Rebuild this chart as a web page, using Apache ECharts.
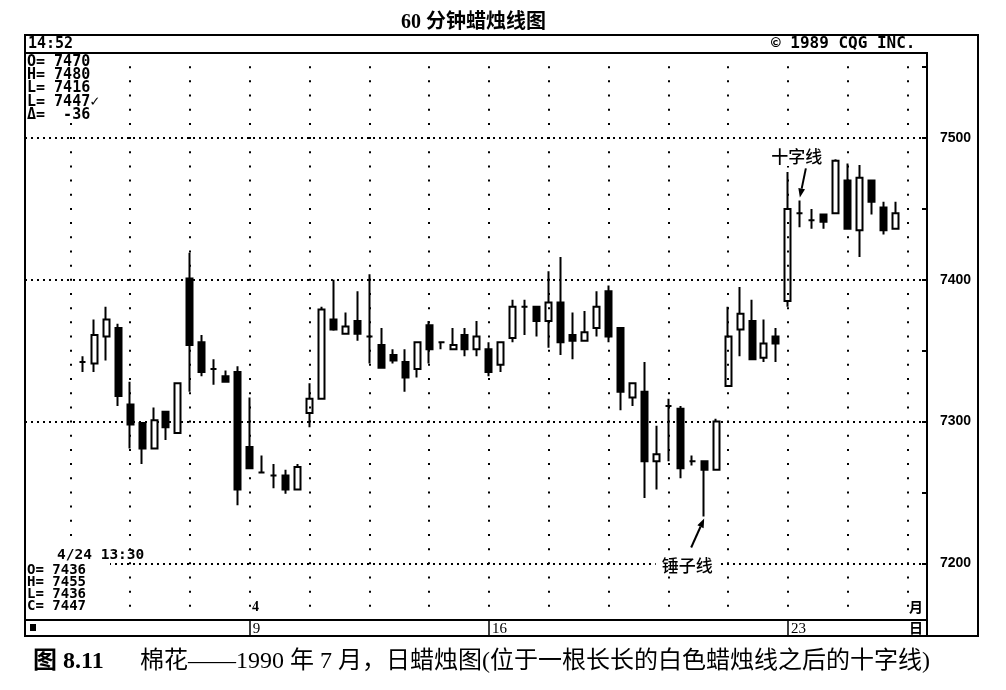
<!DOCTYPE html>
<html>
<head>
<meta charset="utf-8">
<script src="https://cdn.jsdelivr.net/npm/echarts@6/dist/echarts.min.js"></script>
<style>
  html, body { margin: 0; padding: 0; background: #fff; }
  #chart { width: 1006px; height: 690px; }
</style>
</head>
<body>
<div id="chart"></div>
<script>
// Cotton, hourly bars, July 1990 (prices in points)
const opens  = [7342,7341,7360,7366,7312,7299,7281,7307,7292,7401,7356,7337,7332,7335,7282,
                7264,7262,7262,7252,7306,7316,7372,7362,7371,7360,7354,7347,7342,7337,7368,7356,7351,7361,7351,7351,
                7340,7359,7381,7381,7371,7384,7361,7357,7366,7392,7366,7317,7321,7272,7311,7309,7272,7272,7266,7325,
                7365,7371,7345,7360,7385,7447,7442,7446,7447,7470,7435,7470,7451,7436];
const closes = [7342,7361,7372,7318,7298,7281,7301,7296,7327,7354,7335,7337,7328,7252,7267,
                7264,7262,7252,7268,7316,7379,7365,7367,7362,7360,7338,7343,7331,7356,7351,7356,7354,7351,7360,7335,
                7356,7381,7381,7371,7384,7356,7357,7363,7381,7360,7321,7327,7272,7277,7311,7267,7272,7266,7300,7360,
                7376,7344,7355,7355,7450,7447,7442,7441,7484,7436,7472,7455,7435,7447];
const lows   = [7335,7335,7343,7311,7281,7270,7281,7287,7292,7321,7332,7326,7328,7241,7267,
                7264,7253,7249,7252,7296,7316,7364,7362,7357,7341,7338,7341,7321,7331,7341,7351,7351,7346,7346,7332,
                7335,7356,7361,7360,7352,7347,7344,7357,7360,7356,7308,7311,7246,7252,7272,7260,7269,7233,7266,7325,
                7346,7344,7342,7342,7381,7437,7436,7436,7447,7436,7416,7446,7432,7436];
const highs  = [7346,7372,7381,7369,7328,7299,7310,7307,7327,7419,7361,7344,7336,7339,7317,
                7276,7270,7266,7270,7327,7381,7400,7377,7392,7404,7366,7351,7351,7356,7371,7356,7366,7366,7371,7356,
                7356,7386,7386,7381,7406,7416,7377,7378,7392,7396,7366,7327,7342,7297,7316,7311,7276,7272,7302,7381,
                7395,7386,7372,7366,7476,7456,7450,7446,7485,7482,7481,7470,7455,7455];

// Day boundaries on the time axis (bar index -> day of month)
const dateBars   = [14, 34, 59];
const dateLabels = ['9', '16', '23'];

// Price scale
const priceMin = 7160;
const priceMax = 7560;

// Quote-screen text
const clockText   = '14:52';
const creditText  = '© 1989 CQG INC.';
const topInfo     = ['O= 7470', 'H= 7480', 'L= 7416', 'L= 7447✓', 'Δ=  -36'];
const stampText   = '4/24 13:30';
const bottomInfo  = ['O= 7436', 'H= 7455', 'L= 7436', 'C= 7447'];
const monthDigit  = '4';
const monthChar   = '月';
const dayChar     = '日';
const titleText   = '60 分钟蜡烛线图';
const captionLead = '图 8.11';
const captionText = '棉花——1990 年 7 月，日蜡烛图(位于一根长长的白色蜡烛线之后的十字线)';

// Annotated bars
const notes = [
  { bar: 60, text: '十字线', at: 'high' },
  { bar: 52, text: '锤子线', at: 'low' }
];

// One empty slot before and after the bars so the outer dotted columns fall on slots
const categories = ['', ...opens.map((_, i) => 'b' + i), ''];
const bars = ['-', ...opens.map((o, i) => [o, closes[i], lows[i], highs[i]]), '-'];
const isDateSlot = (slot) => dateBars.indexOf(slot - 1) >= 0;
const dateLabelAt = (slot) => {
  const k = dateBars.indexOf(slot - 1);
  return k >= 0 ? dateLabels[k] : '';
};
const columnSlots = Array.from({ length: 15 }, (_, k) => k * 5);

// Plot frame geometry
const PLOT = { left: 25, top: 53, right: 927, bottom: 620 };
const slotW = (907.5 - 70.3) / 70;
const grid1Left = 70.3 - slotW / 2;
const dotStep = (PLOT.bottom - PLOT.top) / (priceMax - priceMin) * 10;   // one dot per 10 points

const MONO = '"DejaVu Sans Mono", monospace';
const CJK = '"Noto Sans CJK SC", sans-serif';
const SERIF = '"Liberation Serif", "Noto Sans CJK SC", serif';

function monoText(str, x, y, size, extra) {
  return Object.assign({
    type: 'text', z: 30,
    style: { text: str, x: x, y: y, font: 'bold ' + size + 'px ' + MONO, fill: '#000',
             textAlign: 'left', textVerticalAlign: 'middle' }
  }, extra || {});
}

const staticGraphics = [
  // outer box
  { type: 'rect', z: 40, shape: { x: 25, y: 35, width: 953, height: 601 },
    style: { fill: 'none', stroke: '#000', lineWidth: 2 } },
  // right price column continues through the date strip
  { type: 'line', z: 40, shape: { x1: PLOT.right, y1: PLOT.bottom, x2: PLOT.right, y2: 636 },
    style: { stroke: '#000', lineWidth: 2 } },
  monoText(clockText, 28, 44, 15),
  monoText(creditText, 771, 44, 16),
  // quote blocks sit on white so the grid does not show through
  { type: 'rect', z: 25, shape: { x: 26, y: 54, width: 70, height: 68 }, style: { fill: '#fff' } },
  { type: 'rect', z: 25, shape: { x: 26, y: 548, width: 84, height: 71 }, style: { fill: '#fff' } },
  ...topInfo.map((s, i) => monoText(s, 27, 62 + i * 13.3, 15)),
  monoText(stampText, 57, 555, 14.5),
  ...bottomInfo.map((s, i) => monoText(s, 27, 570 + i * 12, 14)),
  { type: 'text', z: 30, style: { text: monthDigit, x: 252, y: 607, font: 'bold 14px ' + SERIF,
      fill: '#000', textAlign: 'left', textVerticalAlign: 'middle' } },
  { type: 'text', z: 30, style: { text: monthChar, x: 916, y: 607, font: 'bold 14px ' + CJK,
      fill: '#000', textAlign: 'center', textVerticalAlign: 'middle' } },
  { type: 'text', z: 30, style: { text: dayChar, x: 916, y: 628, font: 'bold 14px ' + CJK,
      fill: '#000', textAlign: 'center', textVerticalAlign: 'middle' } },
  { type: 'rect', z: 30, shape: { x: 30, y: 624, width: 6, height: 7 }, style: { fill: '#000' } },
  // figure caption
  { type: 'text', z: 30, style: { text: captionLead, x: 33, y: 662, font: 'bold 24px ' + SERIF,
      fill: '#000', textAlign: 'left', textVerticalAlign: 'middle' } },
  { type: 'text', z: 30, style: { text: captionText, x: 140, y: 662, font: '24px ' + SERIF,
      fill: '#000', textAlign: 'left', textVerticalAlign: 'middle' } }
];

const option = {
  animation: false,
  backgroundColor: '#fff',
  title: {
    text: titleText, left: 396, top: 8,
    textStyle: { fontFamily: SERIF, fontSize: 20, fontWeight: 'bold', color: '#000' }
  },
  grid: [
    { left: PLOT.left, top: PLOT.top, width: PLOT.right - PLOT.left, height: PLOT.bottom - PLOT.top,
      show: true, borderColor: '#000', borderWidth: 2, backgroundColor: 'transparent' },
    { left: grid1Left, top: PLOT.top, width: slotW * categories.length, height: PLOT.bottom - PLOT.top }
  ],
  xAxis: [
    { gridIndex: 0, type: 'value', min: 0, max: 1, show: false },
    { gridIndex: 1, type: 'category', data: categories, boundaryGap: true,
      axisLine: { show: false },
      axisTick: { show: true, alignWithLabel: true, interval: isDateSlot, length: 16,
                  lineStyle: { color: '#000', width: 1.5 } },
      axisLabel: { interval: isDateSlot, formatter: (v, i) => dateLabelAt(i), align: 'left',
                   margin: 2, padding: [0, 0, 0, 3], fontFamily: SERIF, fontSize: 15, color: '#000' },
      splitLine: { show: false } }
  ],
  yAxis: [
    { gridIndex: 0, type: 'value', position: 'right', min: priceMin, max: priceMax, splitNumber: 4,
      axisLine: { show: true, onZero: false, lineStyle: { color: '#000', width: 2 } },
      axisTick: { show: true, inside: true, length: 5, lineStyle: { color: '#000', width: 2 } },
      minorTick: { show: true, splitNumber: 2, length: 5, lineStyle: { color: '#000', width: 2 } },
      axisLabel: { showMinLabel: false, showMaxLabel: false, margin: 13,
                   formatter: (v) => String(v),
                   fontFamily: '"Liberation Sans", Arial', fontSize: 14, fontWeight: 'bold', color: '#000' },
      splitLine: { show: true, lineStyle: { color: '#000', width: 2, type: [2, 4] } } },
    { gridIndex: 1, type: 'value', min: priceMin, max: priceMax, show: false }
  ],
  series: [{
    type: 'candlestick',
    xAxisIndex: 1, yAxisIndex: 1,
    data: bars,
    barWidth: 6.5,
    itemStyle: { color: '#fff', color0: '#000', borderColor: '#000', borderColor0: '#000',
                 borderColorDoji: '#000', borderWidth: 2 },
    emphasis: { disabled: true },
    markLine: {
      silent: true, symbol: ['none', 'none'], label: { show: false },
      emphasis: { disabled: true },
      lineStyle: { color: '#000', width: 2, type: [2, dotStep - 2], dashOffset: 1 },
      data: columnSlots.map(s => ({ xAxis: s }))
    }
  }],
  graphic: staticGraphics
};

const chart = echarts.init(document.getElementById('chart'), null, { renderer: 'canvas' });
chart.setOption(option);

// Arrow callouts anchored to the annotated bars
function arrow(from, tip, head) {
  const dx = tip[0] - from[0], dy = tip[1] - from[1];
  const len = Math.hypot(dx, dy);
  const ux = dx / len, uy = dy / len;
  const bx = tip[0] - ux * head, by = tip[1] - uy * head;
  const hw = head * 0.38;
  return [
    { type: 'line', z: 35, shape: { x1: from[0], y1: from[1], x2: bx, y2: by },
      style: { stroke: '#000', lineWidth: 2 } },
    { type: 'polygon', z: 35,
      shape: { points: [[tip[0], tip[1]], [bx - uy * hw, by + ux * hw], [bx + uy * hw, by - ux * hw]] },
      style: { fill: '#000' } }
  ];
}

const callouts = [];
notes.forEach(n => {
  const price = n.at === 'high' ? highs[n.bar] : lows[n.bar];
  const p = chart.convertToPixel({ gridIndex: 1 }, [n.bar + 1, price]);
  let tip, from, label;
  if (n.at === 'high') {
    tip = [p[0], p[1] - 3];
    from = [tip[0] + 6, tip[1] - 29];
    label = [tip[0] - 3, tip[1] - 41];
  } else {
    tip = [p[0], p[1] + 2];
    from = [tip[0] - 13, tip[1] + 29];
    label = [tip[0] - 17, tip[1] + 47];
  }
  callouts.push(...arrow(from, tip, 9));
  callouts.push({ type: 'text', z: 36,
    style: { text: n.text, x: label[0], y: label[1], font: '500 17px ' + CJK, fill: '#000',
             textAlign: 'center', textVerticalAlign: 'middle', backgroundColor: '#fff', padding: [1, 6] } });
});

chart.setOption({ graphic: staticGraphics.concat(callouts) });
</script>
</body>
</html>
